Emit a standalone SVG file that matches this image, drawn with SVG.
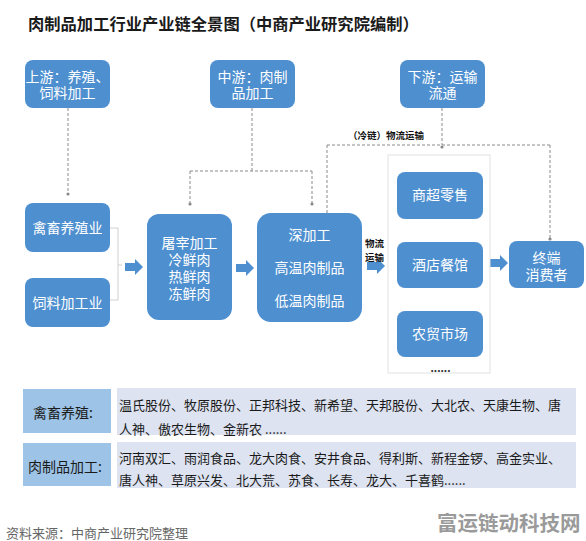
<svg xmlns="http://www.w3.org/2000/svg" xmlns:xlink="http://www.w3.org/1999/xlink" width="586" height="541" viewBox="0 0 586 541">
<style>
.box{fill:#4e8fd0;}
.bt{fill:#ffffff;font-family:"Liberation Sans","Noto Sans CJK SC",sans-serif;font-size:14px;text-anchor:middle;dominant-baseline:central;}
.dash{fill:none;stroke:#8a8a8a;stroke-width:1;stroke-dasharray:3 2;}
.dot{fill:#8a8a8a;}
.lbl{fill:#111;font-family:"Liberation Sans","Noto Sans CJK SC",sans-serif;font-weight:bold;font-size:9.5px;dominant-baseline:central;}
.cell{fill:#9dc3e6;}
.content{fill:#dde3f0;}
.ct{fill:#1a1a1a;font-family:"Noto Sans CJK SC","Noto Sans",sans-serif;font-size:13px;dominant-baseline:central;}
.lt{fill:#1a1a1a;font-family:"Noto Sans CJK SC","Noto Sans",sans-serif;font-size:14px;text-anchor:middle;dominant-baseline:central;}
.arr{fill:#4e8fd0;}
</style>
<defs>
<path id="blk" d="M0,-4 H10 V-8 L18,0 L10,8 V4 H0 Z"/>
</defs>
<rect width="586" height="541" fill="#ffffff"/>
<text x="28" y="23" font-family="'Noto Sans CJK SC','Noto Sans',sans-serif" font-size="16.3" font-weight="bold" fill="#1a1a1a" dominant-baseline="central">肉制品加工行业产业链全景图（中商产业研究院编制）</text>

<g id="connectors">
<path class="dash" d="M68,108 V193"/>
<circle class="dot" cx="68" cy="194" r="1.6"/>
<path class="dash" d="M252,108 V171 M190,171 H312 M190,171 V203 M312,171 V203"/>
<circle class="dot" cx="190" cy="204" r="1.6"/>
<circle class="dot" cx="312" cy="204" r="1.6"/>
<path class="dash" d="M442,108 V145 M327,145 H550 M327,145 V213 M550,145 V238"/>
<circle class="dot" cx="442" cy="147" r="1.6"/>
<circle class="dot" cx="550" cy="239" r="1.6"/>
<path d="M110,228 H118 V300 H110 M118,265 H122" fill="none" stroke="#d0d0d0" stroke-width="1"/>
<use xlink:href="#blk" class="arr" transform="translate(125,267)"/>
<use xlink:href="#blk" class="arr" transform="translate(236,268)"/>
<use xlink:href="#blk" class="arr" transform="translate(367,266)"/>
<use xlink:href="#blk" class="arr" transform="translate(490,263)"/>
<text class="lbl" x="348" y="135">（冷链）物流运输</text>
<text class="lbl" x="365" y="243">物流<tspan x="365" dy="14">运输</tspan></text>
</g>

<g id="upstream">
<rect class="box" x="25" y="60" width="85" height="48" rx="8"/>
<text class="bt" x="67.5" y="77" font-size="13.5">上游：养殖、<tspan x="67.5" dy="16">饲料加工</tspan></text>
</g>
<g id="midstream">
<rect class="box" x="210" y="60" width="85" height="48" rx="8"/>
<text class="bt" x="252.5" y="77" font-size="13.5">中游：肉制<tspan x="252.5" dy="16">品加工</tspan></text>
</g>
<g id="downstream">
<rect class="box" x="400" y="60" width="85" height="48" rx="8"/>
<text class="bt" x="442.5" y="77" font-size="13.5">下游：运输<tspan x="442.5" dy="16">流通</tspan></text>
</g>

<g id="livestock">
<rect class="box" x="25" y="203" width="85" height="49" rx="8"/>
<text class="bt" x="67.5" y="228">禽畜养殖业</text>
</g>
<g id="feed">
<rect class="box" x="25" y="278" width="85" height="49" rx="8"/>
<text class="bt" x="67.5" y="303">饲料加工业</text>
</g>
<g id="slaughter">
<rect class="box" x="147" y="214" width="85" height="106" rx="12"/>
<text class="bt" x="189.5" y="243" font-size="14.5">屠宰加工<tspan x="189.5" dy="17">冷鲜肉</tspan><tspan x="189.5" dy="17">热鲜肉</tspan><tspan x="189.5" dy="17">冻鲜肉</tspan></text>
</g>
<g id="deep">
<rect class="box" x="257" y="213" width="105" height="109" rx="14"/>
<text class="bt" x="309.5" y="235">深加工<tspan x="309.5" dy="33">高温肉制品</tspan><tspan x="309.5" dy="33">低温肉制品</tspan></text>
</g>

<g id="retail-group">
<rect x="388" y="155" width="102" height="218" fill="#ffffff" stroke="#e2e2e2" stroke-width="1"/>
<text x="440.5" y="368" font-family="'Liberation Sans',sans-serif" font-size="12" font-weight="bold" fill="#333" text-anchor="middle" dominant-baseline="central">......</text>
</g>
<g id="supermarket">
<rect class="box" x="397" y="172" width="86" height="47" rx="8"/>
<text class="bt" x="440" y="195">商超零售</text>
</g>
<g id="hotel">
<rect class="box" x="397" y="242" width="86" height="46" rx="8"/>
<text class="bt" x="440" y="265">酒店餐馆</text>
</g>
<g id="market">
<rect class="box" x="397" y="311" width="86" height="46" rx="8"/>
<text class="bt" x="440" y="334">农贸市场</text>
</g>
<g id="consumer">
<rect class="box" x="509" y="241" width="75" height="47" rx="8"/>
<text class="bt" x="546.5" y="258">终端<tspan x="546.5" dy="17">消费者</tspan></text>
</g>

<g id="table-livestock">
<rect class="cell" x="23" y="389" width="88" height="44"/>
<rect class="content" x="117" y="388" width="459" height="47"/>
<text class="lt" x="63" y="412">禽畜养殖:</text>
<text class="ct" x="119" y="404">温氏股份、牧原股份、正邦科技、新希望、天邦股份、大北农、天康生物、唐<tspan x="119" dy="24">人神、傲农生物、金新农  ......</tspan></text>
</g>
<g id="table-meat">
<rect class="cell" x="23" y="443" width="88" height="43"/>
<rect class="content" x="117" y="442" width="459" height="46"/>
<text class="lt" x="65" y="466">肉制品加工:</text>
<text class="ct" x="119" y="457">河南双汇、雨润食品、龙大肉食、安井食品、得利斯、新程金锣、高金实业、<tspan x="119" dy="22">唐人神、草原兴发、北大荒、苏食、长寿、龙大、千喜鹤......</tspan></text>
</g>

<text x="6" y="532" font-family="'Noto Sans CJK SC','Noto Sans',sans-serif" font-size="13" fill="#666" dominant-baseline="central">资料来源：中商产业研究院整理</text>
<text x="437" y="522" font-family="'Noto Sans CJK SC','Noto Sans',sans-serif" font-size="20.5" font-weight="bold" fill="#9a9a9a" dominant-baseline="central">富运链动科技网</text>
</svg>
